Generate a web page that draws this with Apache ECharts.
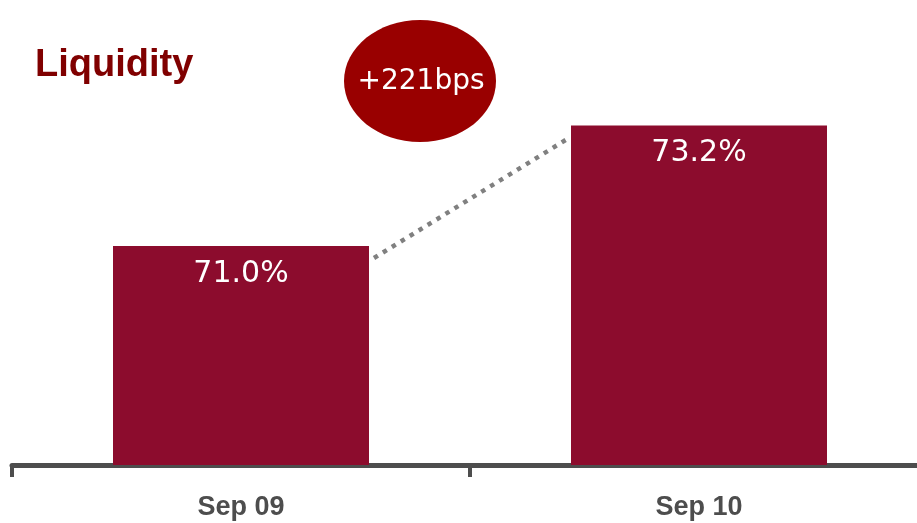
<!DOCTYPE html>
<html>
<head>
<meta charset="utf-8">
<script src="https://cdn.jsdelivr.net/npm/echarts@6/dist/echarts.min.js"></script>
<style>
  html, body { margin: 0; padding: 0; background: #fff; }
  #chart { width: 917px; height: 523px; }
</style>
</head>
<body>
<div id="chart"></div>
<script>
// ---- data ----
const title = 'Liquidity';
const categories = ['Sep 09', 'Sep 10'];
const liquidity = [71.0, 73.2];
const changeLabel = '+221bps';
const yMin = 67;
const yMax = 75;

const chart = echarts.init(document.getElementById('chart'), null, { renderer: 'canvas' });

const BAR_W = 256;

const option = {
  animation: false,
  backgroundColor: '#ffffff',
  title: {
    text: title,
    left: 30,
    top: 42,
    textStyle: {
      fontFamily: 'Liberation Sans, Arial, sans-serif',
      fontWeight: 'bold',
      fontSize: 38,
      color: '#800000'
    }
  },
  grid: { left: 12, right: -11, top: 27, bottom: 58, outerBoundsMode: 'none' },
  xAxis: {
    type: 'category',
    data: categories,
    axisLine: { show: true, lineStyle: { color: '#4d4d4d', width: 5 } },
    axisTick: { show: true, length: 12, lineStyle: { color: '#4d4d4d', width: 4 } },
    axisLabel: {
      margin: 29,
      fontFamily: 'Liberation Sans, Arial, sans-serif',
      fontWeight: 'bold',
      fontSize: 27,
      color: '#4d4d4d'
    }
  },
  yAxis: {
    type: 'value',
    min: yMin,
    max: yMax,
    show: false,
    splitLine: { show: false }
  },
  graphic: [
    {
      type: 'ellipse',
      shape: { cx: 420, cy: 81, rx: 76, ry: 61 },
      style: { fill: '#990000' },
      z: 10
    },
    {
      type: 'text',
      x: 421,
      y: 82,
      style: {
        text: changeLabel,
        fill: '#ffffff',
        font: '28px "DejaVu Sans", sans-serif',
        align: 'center',
        verticalAlign: 'middle'
      },
      z: 11
    }
  ],
  series: [
    {
      type: 'bar',
      data: liquidity,
      barWidth: BAR_W,
      itemStyle: { color: '#8c0c2d' },
      label: {
        show: true,
        position: 'insideTop',
        distance: 13,
        formatter: p => p.value.toFixed(1) + '%',
        fontFamily: '"DejaVu Sans", sans-serif',
        fontSize: 30,
        color: '#ffffff'
      },
      z: 2
    },
    {
      type: 'custom',
      data: [[0, liquidity[0], 1, liquidity[1]]],
      renderItem: function (params, api) {
        const p1 = api.coord([api.value(0), api.value(1)]);
        const p2 = api.coord([api.value(2), api.value(3)]);
        return {
          type: 'line',
          shape: {
            x1: p1[0] + BAR_W / 2 + 5,
            y1: p1[1] + 12,
            x2: p2[0] - BAR_W / 2 - 3,
            y2: p2[1] + 13
          },
          style: {
            stroke: '#808080',
            lineWidth: 4.5,
            lineDash: [4.5, 6]
          }
        };
      },
      z: 3
    }
  ]
};

chart.setOption(option);
</script>
</body>
</html>
